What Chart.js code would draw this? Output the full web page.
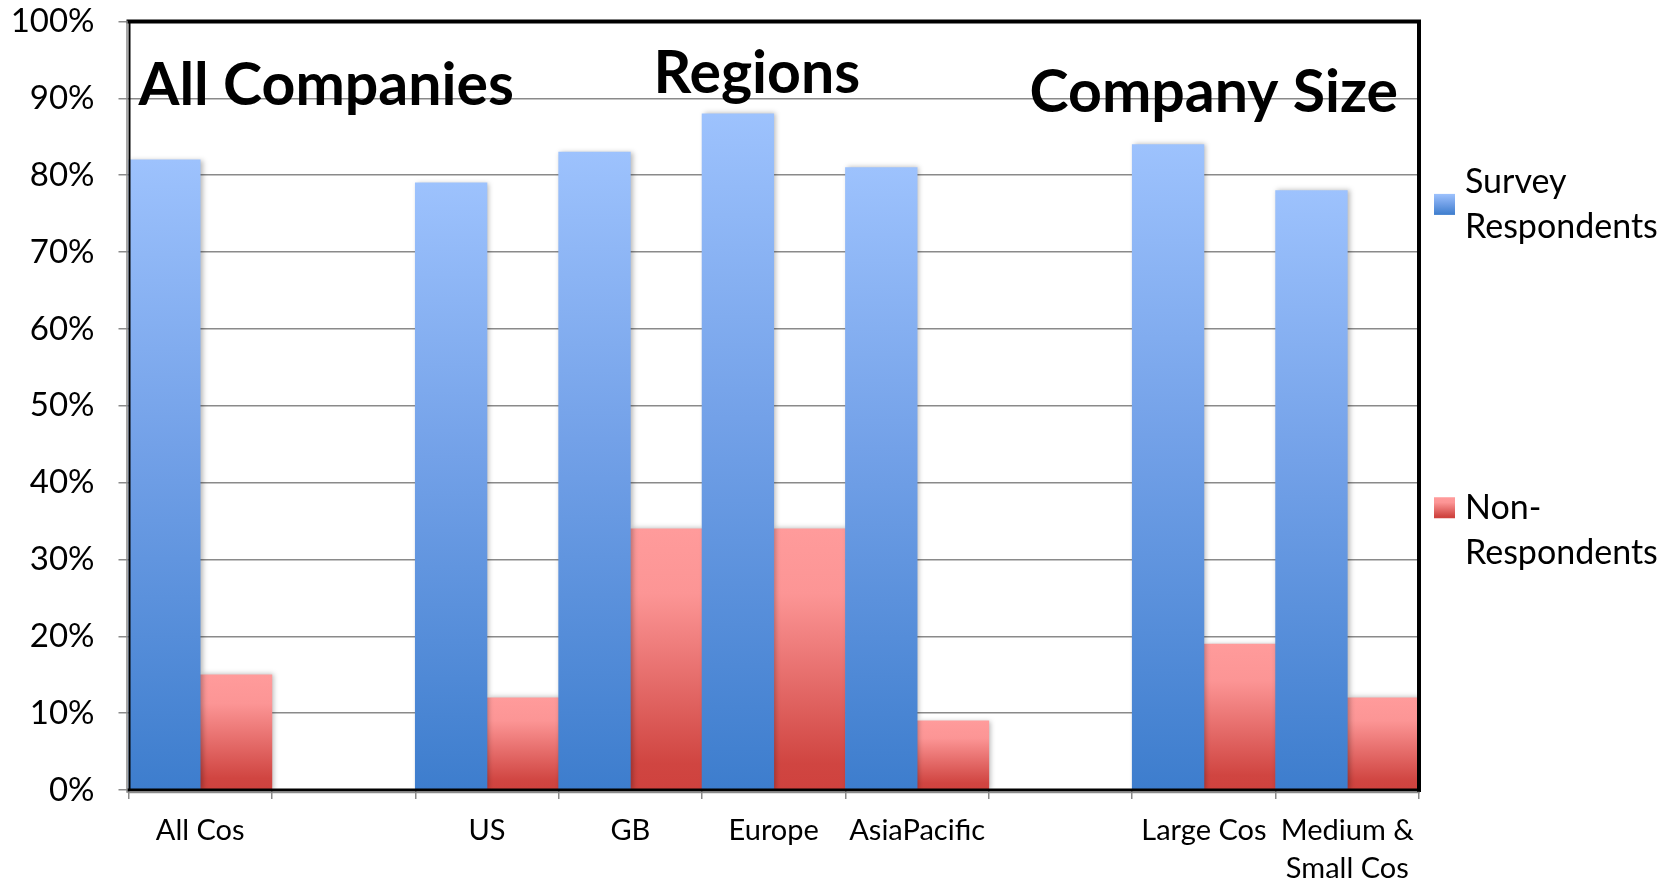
<!DOCTYPE html>
<html>
<head>
<meta charset="utf-8">
<script src="https://cdn.jsdelivr.net/npm/chart.js@4.4.1/dist/chart.umd.min.js"></script>
<style>
  html, body { margin: 0; padding: 0; background: #fff; }
</style>
</head>
<body>
<canvas id="survey" width="1679" height="888"></canvas>
<script>
// categories, with blank slots separating the groups
const categories = ['All Cos', '', 'US', 'GB', 'Europe', 'AsiaPacific', '', 'Large Cos', ['Medium &', 'Small Cos']];
const surveyRespondents = [82, null, 79, 83, 88, 81, null, 84, 78];
const nonRespondents = [15, null, 12, 34, 34, 9, null, 19, 12];
const seriesNames = ['Survey Respondents', 'Non-Respondents'];
const legendLines = [['Survey', 'Respondents'], ['Non-', 'Respondents']];
const groupTitles = ['All Companies', 'Regions', 'Company Size'];
const yTicks = [0, 10, 20, 30, 40, 50, 60, 70, 80, 90, 100];

const FONT = 'Lato, "Open Sans", sans-serif';
const blueStops = [[0, '#9dc2fd'], [0.45, '#73a1e8'], [1, '#3d7dcd']];
const redStops = [[0, '#ff9b9b'], [0.25, '#fc9595'], [0.6, '#e46a68'], [0.9, '#d04541'], [1, '#cf423e']];

function fillStops(g, stops) {
  stops.forEach(([o, c]) => g.addColorStop(o, c));
  return g;
}

// vertical gradient per bar, from its top down to the baseline
function barGradient(stops) {
  return (ctx) => {
    const chart = ctx.chart;
    if (!chart.chartArea || ctx.type !== 'data' || ctx.parsed == null) return stops[0][1];
    const y = chart.scales.y;
    const top = y.getPixelForValue(ctx.parsed.y);
    const bottom = y.getPixelForValue(0);
    if (!isFinite(top) || top === bottom) return stops[0][1];
    return fillStops(chart.ctx.createLinearGradient(0, top, 0, bottom), stops);
  };
}

const shadowPlugin = {
  id: 'barShadow',
  beforeDatasetsDraw(chart) {
    const c = chart.ctx;
    c.save();
    c.shadowColor = 'rgba(0,0,0,0.28)';
    c.shadowBlur = 5;
    c.shadowOffsetX = 2;
    c.shadowOffsetY = 0;
  },
  afterDatasetsDraw(chart) {
    chart.ctx.restore();
  }
};

const framePlugin = {
  id: 'frame',
  afterDatasetsDraw(chart) {
    const { ctx: c, chartArea: a } = chart;
    c.save();
    c.strokeStyle = '#000';
    c.lineCap = 'square';
    c.lineWidth = 4;
    c.beginPath();
    c.moveTo(a.left, a.top); c.lineTo(a.right, a.top);
    c.lineTo(a.right, a.bottom);
    c.stroke();
    c.lineWidth = 3;
    c.beginPath();
    c.moveTo(a.left, a.bottom); c.lineTo(a.right, a.bottom);
    c.stroke();
    c.lineWidth = 2;
    c.beginPath();
    c.moveTo(a.left + 1, a.top); c.lineTo(a.left + 1, a.bottom);
    c.stroke();
    c.strokeStyle = '#8a8a8a';
    c.lineWidth = 1.5;
    c.beginPath();
    c.moveTo(a.left - 1.5, a.top); c.lineTo(a.left - 1.5, a.bottom + 2);
    c.moveTo(a.left, a.bottom + 2.5); c.lineTo(a.right, a.bottom + 2.5);
    c.stroke();
    c.restore();
  }
};

const titlePlugin = {
  id: 'groupTitles',
  afterDraw(chart) {
    const { ctx: c, chartArea: a } = chart;
    c.save();
    c.fillStyle = '#000';
    c.font = 'bold 59px ' + FONT;
    c.textBaseline = 'alphabetic';
    c.textAlign = 'left';
    c.fillText(groupTitles[0], a.left + 10, a.top + 83);
    c.fillText(groupTitles[1], a.left + 525, a.top + 71);
    c.textAlign = 'right';
    c.fillText(groupTitles[2], a.right - 21, a.top + 90);
    c.restore();
  }
};

const legendPlugin = {
  id: 'sideLegend',
  afterDraw(chart) {
    const { ctx: c, chartArea: a } = chart;
    const h = a.bottom - a.top;
    const lineGap = 45;
    const box = 21;
    const items = [
      { stops: blueStops, mid: a.top + 0.238 * h, boxOnFirst: false },
      { stops: redStops, mid: a.top + 0.662 * h, boxOnFirst: true }
    ];
    c.save();
    c.font = '34px ' + FONT;
    c.textBaseline = 'middle';
    c.textAlign = 'left';
    items.forEach((it, i) => {
      const lines = legendLines[i];
      const first = it.mid - lineGap * (lines.length - 1) / 2;
      const boxMid = it.boxOnFirst ? first : it.mid;
      const bx = a.right + 15, by = boxMid - box / 2;
      c.fillStyle = fillStops(c.createLinearGradient(0, by, 0, by + box), it.stops);
      c.fillRect(bx, by, box, box);
      c.fillStyle = '#000';
      lines.forEach((t, j) => c.fillText(t, a.right + 46, first + j * lineGap));
    });
    c.restore();
  }
};

new Chart(document.getElementById('survey'), {
  type: 'bar',
  data: {
    labels: categories,
    datasets: [
      { label: seriesNames[0], data: surveyRespondents, backgroundColor: barGradient(blueStops) },
      { label: seriesNames[1], data: nonRespondents, backgroundColor: barGradient(redStops) }
    ]
  },
  options: {
    responsive: false,
    animation: false,
    layout: { padding: { left: 0, right: 260, top: 21.5, bottom: 0 } },
    datasets: { bar: { categoryPercentage: 1, barPercentage: 1, borderWidth: 0 } },
    plugins: { legend: { display: false }, tooltip: { enabled: false } },
    scales: {
      x: {
        grid: { offset: true, drawOnChartArea: false, color: '#8a8a8a', lineWidth: 1.5, tickLength: 9 },
        border: { display: false },
        ticks: { color: '#000', font: { family: FONT, size: 29, lineHeight: 1.33 }, padding: 12, maxRotation: 0, autoSkip: false },
        afterFit(s) { s.height = 98; }
      },
      y: {
        min: 0,
        max: 100,
        afterBuildTicks(s) { s.ticks = yTicks.map(v => ({ value: v })); },
        grid: { color: '#8a8a8a', lineWidth: 1.5, tickLength: 10 },
        border: { display: false },
        ticks: { color: '#000', font: { family: FONT, size: 33 }, padding: 24, callback: v => v + '%' },
        afterFit(s) {
          s.width = 128.5;
          s.paddingTop = 0;
          s.paddingBottom = 0;
        }
      }
    }
  },
  plugins: [shadowPlugin, framePlugin, titlePlugin, legendPlugin]
});
</script>
</body>
</html>
